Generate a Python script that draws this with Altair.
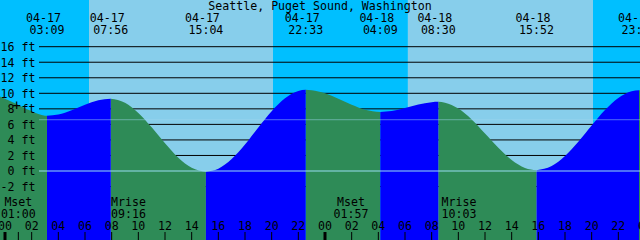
import altair as alt
import pandas as pd

TITLE = "Seattle, Puget Sound, Washington"

# Tide curve samples (hours since 04-17 00:00, feet)
curve_t = [-0.375, 0, 1, 2, 3, 3.15, 4, 5, 6, 7, 7.933, 9, 10, 11, 12, 13, 14,
           15.067, 16, 17, 18, 19, 20, 21, 22, 22.55, 23, 24, 25, 26, 27, 28.15,
           29, 30, 31, 32, 32.5, 33, 34, 35, 36, 37, 38, 39, 39.867, 41, 42, 43,
           44, 45, 46, 47, 47.55, 47.625]
curve_h = [9.6, 9.3, 8.5, 7.7, 7.12, 7.1, 7.27, 7.82, 8.53, 9.10, 9.3, 8.79, 7.48,
           5.62, 3.57, 1.71, 0.41, -0.1, 0.29, 1.54, 3.41, 5.60, 7.70, 9.37, 10.31,
           10.45, 10.40, 10.00, 9.30, 8.52, 7.89, 7.6, 7.72, 8.10, 8.56, 8.86, 8.9,
           8.80, 8.03, 6.64, 4.84, 3.00, 1.43, 0.40, 0.1, 0.64, 1.93, 3.77, 5.86,
           7.84, 9.40, 10.27, 10.4, 10.4]

# Tide extremes (low first)
ext_t = [3.15, 7.933, 15.067, 22.55, 28.15, 32.5, 39.867, 47.55]
ext_date = ["04-17", "04-17", "04-17", "04-17", "04-18", "04-18", "04-18", "04-18"]
ext_time = ["03:09", "07:56", "15:04", "22:33", "04:09", "08:30", "15:52", "23:33"]

# Sun: sunrise, sunset, sunrise, sunset
sun_t = [6.3, 20.1, 30.22, 44.1]

# Moon events
moon_t = [1.0, 9.267, 25.95, 34.05]
moon_name = ["Mset", "Mrise", "Mset", "Mrise"]
moon_time = ["01:00", "09:16", "01:57", "10:03"]

levels = [16, 14, 12, 10, 8, 6, 4, 2, 0, -2]
msl_level = 6.6
tick_hours = [0, 1, 2, 4, 6, 8, 10, 12, 14, 16, 18, 20, 22, 24, 26, 28, 30, 32,
              34, 36, 38, 40, 42, 44, 46]
label_hours = list(range(0, 50, 2))
mark_t, mark_h = 0.875, 8.37

T0, T1 = -0.375, 47.625
FONT = "DejaVu Sans Mono"
FS = 11.6

xs = alt.Scale(domain=[T0, T1], nice=False, zero=False)
ys = alt.Scale(domain=[-8.88, 22.01], nice=False, zero=False)

# ---- build tables ----
bounds = [-1e9] + ext_t + [1e9]
rows = []
for i in range(len(bounds) - 1):
    d = "fall" if i % 2 == 0 else "rise"
    for t, h in zip(curve_t, curve_h):
        if bounds[i] <= t <= bounds[i + 1]:
            rows.append({"t": t, "h": h, "seg": i, "dir": d})
curve = pd.DataFrame(rows)

edges = [T0] + sun_t + [T1]
bg = pd.DataFrame({
    "start": edges[:-1], "end": edges[1:],
    "kind": ["night" if i % 2 == 0 else "day" for i in range(len(edges) - 1)]})

lv = pd.DataFrame({"lvl": levels, "lab": [f"{l} ft" for l in levels]})
ext = pd.DataFrame({"t": ext_t, "d": ext_date, "tm": ext_time})
moon = pd.DataFrame({"t": moon_t, "n": moon_name, "tm": moon_time})
ticks = pd.DataFrame({"t": tick_hours,
                      "w": [3 if h % 24 == 0 else 1 for h in tick_hours]})
hl = pd.DataFrame({"t": label_hours, "lab": [f"{h % 24:02d}" for h in label_hours]})

X = lambda f: alt.X(f, type="quantitative", scale=xs, axis=None)
Y = lambda f: alt.Y(f, type="quantitative", scale=ys, axis=None)

layers = []
for kind, col in [("night", "#00BFFF"), ("day", "#87CEEB")]:
    layers.append(alt.Chart(bg).transform_filter(alt.datum.kind == kind)
                  .mark_rect(color=col)
                  .encode(x=X("start"), x2="end", y=alt.value(0), y2=alt.value(240)))

layers.append(alt.Chart(lv).transform_filter(alt.datum.lvl != 0)
              .mark_rule(color="black", strokeWidth=1)
              .encode(x=alt.value(39), x2=alt.value(640), y=Y("lvl")))

for d, col in [("fall", "#2E8B57"), ("rise", "#0000FF")]:
    layers.append(alt.Chart(curve).transform_filter(alt.datum.dir == d)
                  .mark_area(color=col, interpolate="monotone", opacity=1)
                  .encode(x=X("t"), y=alt.Y("h:Q", scale=ys, axis=None, stack=None),
                          y2=alt.datum(-8.88), detail="seg:N"))

layers.append(alt.Chart(pd.DataFrame({"lvl": [msl_level]}))
              .mark_rule(color="#9fd8f0", strokeWidth=1, opacity=0.5)
              .encode(x=alt.value(39), x2=alt.value(640), y=Y("lvl")))
layers.append(alt.Chart(pd.DataFrame({"lvl": [0]}))
              .mark_rule(color="#98dcf2", strokeWidth=1)
              .encode(x=alt.value(39), x2=alt.value(640), y=Y("lvl")))

txt = dict(font=FONT, fontSize=FS, color="black", baseline="alphabetic")
layers.append(alt.Chart(lv).mark_text(align="right", dy=4.3, **txt)
              .encode(x=alt.value(35.5), y=Y("lvl"), text="lab:N"))
layers.append(alt.Chart(pd.DataFrame({"s": [TITLE]})).mark_text(align="center", **txt)
              .encode(x=alt.value(320), y=alt.value(9.7), text="s:N"))
layers.append(alt.Chart(ext).mark_text(align="center", dx=-3.5, **txt)
              .encode(x=X("t"), y=alt.value(21.7), text="d:N"))
layers.append(alt.Chart(ext).mark_text(align="center", **txt)
              .encode(x=X("t"), y=alt.value(34), text="tm:N"))
layers.append(alt.Chart(moon).mark_text(align="center", **txt)
              .encode(x=X("t"), y=alt.value(206), text="n:N"))
layers.append(alt.Chart(moon).mark_text(align="center", **txt)
              .encode(x=X("t"), y=alt.value(217.5), text="tm:N"))
layers.append(alt.Chart(hl).mark_text(align="center", **txt)
              .encode(x=X("t"), y=alt.value(229.5), text="lab:N"))
layers.append(alt.Chart(ticks).mark_rule(color="black")
              .encode(x=X("t"), y=alt.value(232), y2=alt.value(240),
                      strokeWidth=alt.StrokeWidth("w:Q", scale=None)))
layers.append(alt.Chart(pd.DataFrame({"t": [mark_t], "h": [mark_h]}))
              .mark_text(text="+", font=FONT, fontSize=14, color="black", baseline="middle")
              .encode(x=X("t"), y=Y("h")))

chart = (alt.layer(*layers)
         .properties(width=640, height=240, padding=0,
                     autosize=alt.AutoSizeParams(type="none"))
         .configure_view(stroke=None))

chart.save("out.html", embed_options={"renderer": "svg", "actions": False})
